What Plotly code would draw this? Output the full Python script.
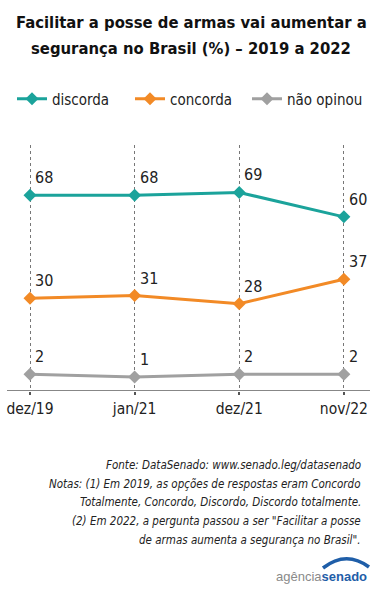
import plotly.graph_objects as go

categories = ["dez/19", "jan/21", "dez/21", "nov/22"]
discorda = [68, 68, 69, 60]
concorda = [30, 31, 28, 37]
nao_opinou = [2, 1, 2, 2]

series = [
    ("discorda", discorda, "#1ba39b"),
    ("concorda", concorda, "#f28a26"),
    ("não opinou", nao_opinou, "#a0a0a0"),
]
title_lines = ["Facilitar a posse de armas vai aumentar a",
               "segurança no Brasil (%) – 2019 a 2022"]
note_lines = ["Fonte: DataSenado: www.senado.leg/datasenado",
              "Notas: (1) Em 2019, as opções de respostas eram Concordo",
              "Totalmente, Concordo, Discordo, Discordo totalmente.",
              "(2) Em 2022, a pergunta passou a ser \"Facilitar a posse",
              "de armas aumenta a segurança no Brasil\"."]

FONT = "DejaVu Sans Condensed, Roboto, sans-serif"
W, H = 382, 594
ML, MR, MT, MB = 7, 12, 145, 203
x_idx = list(range(len(categories)))

def py(pixel_y):
    return (H - MB - pixel_y) / (H - MT - MB)

def px(pixel_x):
    return (pixel_x - ML) / (W - ML - MR)

legend_x = [12, 130, 247]
fig = go.Figure()
for i, (name, vals, color) in enumerate(series):
    lg = "legend" if i == 0 else f"legend{i+1}"
    fig.add_trace(go.Scatter(
        x=x_idx, y=vals, name=name, mode="lines+markers",
        line=dict(color=color, width=3),
        marker=dict(symbol="diamond", size=10, color=color),
        legend=lg, hoverinfo="skip",
    ))
    fig.update_layout({lg: dict(orientation="h", x=px(legend_x[i]), xanchor="left",
                                y=py(99), yanchor="middle",
                                font=dict(family=FONT, size=15, color="#222"),
                                itemwidth=30, bgcolor="rgba(0,0,0,0)")})
    for xi, v in zip(x_idx, vals):
        fig.add_annotation(x=xi, y=v, text=str(v), showarrow=False,
                           xanchor="left", yanchor="bottom", xshift=3, yshift=6,
                           font=dict(family=FONT, size=16, color="#222"))

fig.update_layout(
    width=W, height=H,
    margin=dict(l=ML, r=MR, t=MT, b=MB, autoexpand=False),
    paper_bgcolor="white", plot_bgcolor="white",
    showlegend=True,
    xaxis=dict(range=[-0.22, 3.25], tickmode="array", tickvals=x_idx, ticktext=categories,
               showgrid=True, gridcolor="#777", griddash="dot", gridwidth=1,
               ticks="outside", ticklen=3, tickcolor="#555", tickwidth=2,
               tickfont=dict(family=FONT, size=15.5, color="#222"),
               showline=False, zeroline=False, fixedrange=True),
    yaxis=dict(range=[-4.2, 86.5], showgrid=False, showticklabels=False,
               zeroline=False, showline=False, fixedrange=True),
)

for i, t in enumerate(title_lines):
    fig.add_annotation(xref="paper", yref="paper", x=px(191), y=py(22 + 26 * i),
                       xanchor="center", yanchor="middle", showarrow=False,
                       text="<b>" + t + "</b>",
                       font=dict(family=FONT, size=16.5, color="#111"))

# baseline
fig.add_shape(type="line", xref="paper", yref="y", x0=0, x1=1, y0=-4.2, y1=-4.2,
              line=dict(color="#111", width=1.2))

for i, t in enumerate(note_lines):
    fig.add_annotation(xref="paper", yref="paper", x=px(363), y=py(465 + 18.7 * i),
                       xanchor="right", yanchor="middle", showarrow=False,
                       text="<i>" + t + "</i>",
                       font=dict(family=FONT, size=11.5, color="#222"))

fig.add_annotation(xref="paper", yref="paper", x=px(369), y=py(576), xanchor="right", yanchor="middle",
                   text="<span style='color:#8a8a8a'>agência</span><b><span style='color:#1f5ea8'>senado</span></b>",
                   showarrow=False, font=dict(family="Liberation Sans", size=13))
# logo arc
fig.add_shape(type="path", xref="paper", yref="paper", layer="above",
              path=f"M {px(323):.4f},{py(568):.4f} Q {px(346):.4f},{py(550):.4f} {px(369):.4f},{py(567):.4f}",
              line=dict(color="#1f5ea8", width=3.5))

fig.write_html("out.html", config={"displayModeBar": False},
               post_script="document.body.style.margin='0';document.documentElement.style.overflow='hidden';")
